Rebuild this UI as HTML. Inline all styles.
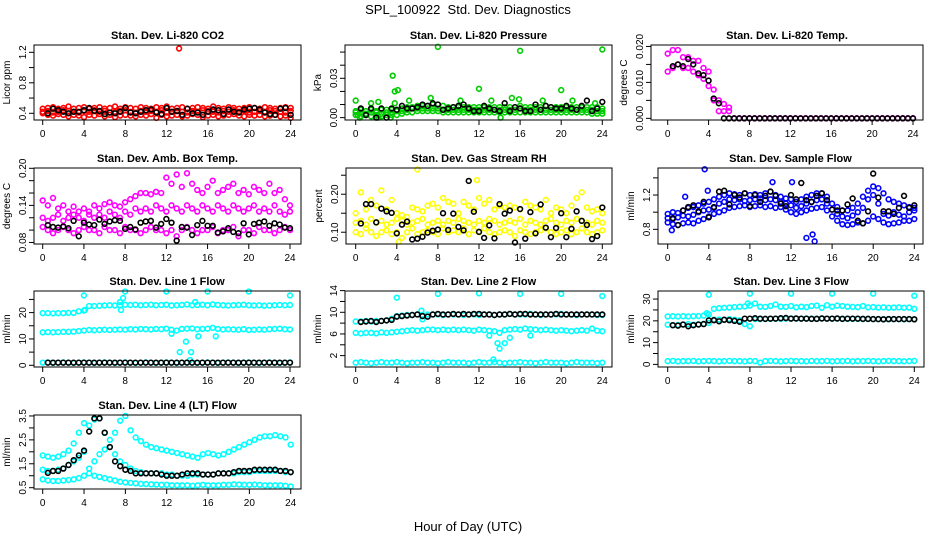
<!DOCTYPE html>
<html><head><meta charset="utf-8"><style>
html,body{margin:0;padding:0;background:#fff}
svg{display:block;font-family:"Liberation Sans",Arial,sans-serif}
</style></head><body>
<svg id="chart" width="936" height="540" viewBox="0 0 936 540" xmlns="http://www.w3.org/2000/svg">
<rect width="936" height="540" fill="#fff"/>
<text x="468" y="14" font-size="13" text-anchor="middle" style="white-space:pre">SPL_100922  Std. Dev. Diagnostics</text>
<text x="468" y="531" font-size="13" text-anchor="middle">Hour of Day (UTC)</text>
</svg>
<script>
const HOURS=[0,0.5,1,1.5,2,2.5,3,3.5,4,4.5,5,5.5,6,6.5,7,7.5,8,8.5,9,9.5,10,10.5,11,11.5,12,12.5,13,13.5,14,14.5,15,15.5,16,16.5,17,17.5,18,18.5,19,19.5,20,20.5,21,21.5,22,22.5,23,23.5,24];
const X_TICKS=[0,4,8,12,16,20,24];

const co2Lo=[0.40,0.38,0.37,0.39,0.38,0.36,0.38,0.37,0.35,0.38,0.37,0.39,0.36,0.38,0.35,0.37,0.38,0.37,0.36,0.38,0.37,0.39,0.34,0.38,0.36,0.37,0.38,0.36,0.37,0.39,0.38,0.35,0.37,0.38,0.36,0.37,0.38,0.39,0.37,0.36,0.38,0.37,0.38,0.36,0.37,0.38,0.36,0.37,0.34];
const co2Mid=[0.42,0.43,0.41,0.42,0.44,0.43,0.42,0.41,0.43,0.42,0.44,0.42,0.43,0.41,0.42,0.43,0.44,0.42,0.41,0.43,0.42,0.43,0.42,0.44,0.41,0.42,0.43,0.42,0.41,0.43,0.42,0.44,0.43,0.42,0.41,0.43,0.42,0.44,0.42,0.43,0.41,0.42,0.43,0.42,0.44,0.43,0.42,0.41,0.43];
const co2Hi=[0.46,0.47,0.48,0.46,0.47,0.49,0.46,0.47,0.48,0.46,0.47,0.48,0.46,0.47,0.49,0.46,0.48,0.47,0.46,0.48,0.47,0.46,0.48,0.47,0.49,0.46,0.47,0.48,0.46,0.47,0.48,0.47,0.46,0.49,0.47,0.46,0.48,0.47,0.46,0.47,0.48,0.47,0.46,0.48,0.47,0.46,0.47,0.48,0.47];
const co2Black=[null,0.40,0.46,0.44,0.42,0.40,0.42,0.42,0.44,0.47,0.43,0.43,0.39,0.41,0.40,0.42,0.47,0.41,0.40,0.42,0.44,0.45,0.41,0.39,0.47,0.42,0.43,0.38,0.46,0.40,0.41,0.38,0.42,0.45,0.44,0.39,0.45,0.42,0.41,0.45,0.46,0.47,0.45,0.41,0.39,0.38,0.46,0.47,0.38];
const co2OutHours=[13.2];
const co2OutVals=[1.25];

const presLo=[0.002,0.001,0.002,0.001,0.002,0.001,0.002,0.002,0.002,0.003,0.004,0.004,0.005,0.005,0.005,0.005,0.005,0.004,0.004,0.004,0.004,0.004,0.004,0.004,0.004,0.004,0.004,0.004,0.004,0.004,0.004,0.004,0.004,0.004,0.004,0.004,0.004,0.004,0.004,0.004,0.004,0.004,0.004,0.004,0.004,0.004,0.003,0.003,0.003];
const presMid=[0.004,0.004,0.003,0.004,0.004,0.003,0.004,0.004,0.005,0.005,0.006,0.007,0.007,0.007,0.007,0.007,0.007,0.006,0.006,0.006,0.006,0.006,0.006,0.006,0.006,0.006,0.006,0.006,0.006,0.006,0.006,0.006,0.007,0.006,0.006,0.006,0.006,0.006,0.006,0.006,0.006,0.006,0.006,0.006,0.006,0.006,0.006,0.005,0.005];
const presHi=[0.005,0.006,0.005,0.006,0.005,0.006,0.006,0.006,0.006,0.007,0.008,0.008,0.009,0.009,0.009,0.010,0.010,0.009,0.008,0.008,0.008,0.008,0.008,0.008,0.008,0.008,0.008,0.008,0.008,0.008,0.008,0.008,0.009,0.008,0.008,0.008,0.008,0.009,0.008,0.008,0.008,0.008,0.008,0.008,0.008,0.008,0.008,0.008,0.007];
const presBlack=[null,0.007,0.002,0.007,0.000,0.007,0.000,0.007,0.006,0.009,0.007,0.007,0.008,0.010,0.009,0.011,0.010,0.006,0.007,0.008,0.009,0.010,0.007,0.005,0.005,0.009,0.007,0.006,0.005,0.011,0.005,0.008,0.007,0.005,0.005,0.010,0.006,0.009,0.008,0.007,0.007,0.009,0.007,0.006,0.009,0.013,0.005,0.007,0.012];
const presOutHours=[0,1.5,2.2,3.6,3.8,4.1,3.8,5.2,7.3,8,10.2,12,13.2,14.1,15.2,15.9,16,18.2,20,21.1,23.3,24,0.2,2.2,3.4,0.4];
const presOutVals=[0.013,0.011,0.012,0.032,0.020,0.021,0.011,0.013,0.015,0.054,0.013,0.022,0.013,0,0.015,0.014,0.051,0.013,0.021,0.013,0.011,0.052,0.002,0,0,0];

const tempHi=[0.018,0.019,0.019,0.017,0.017,0.016,0.016,0.014,0.013,0.008,0.005,0.004,0.003,0,0,0,0,0,0,0,0,0,0,0,0,0,0,0,0,0,0,0,0,0,0,0,0,0,0,0,0,0,0,0,0,0,0,0,0];
const tempLo=[0.013,0.014,0.015,0.014,0.014,0.013,0.012,0.011,0.009,0.005,0.002,0.002,0.002,0,0,0,0,0,0,0,0,0,0,0,0,0,0,0,0,0,0,0,0,0,0,0,0,0,0,0,0,0,0,0,0,0,0,0,0];
const tempBlack=[null,0.0145,0.015,0.0145,0.0165,0.015,0.0125,0.012,0.0105,0.0055,0.0042,0,0,0,0,0,0,0,0,0,0,0,0,0,0,0,0,0,0,0,0,0,0,0,0,0,0,0,0,0,0,0,0,0,0,0,0,0,0];

const ambLo=[0.105,0.10,0.095,0.10,0.105,0.10,0.095,0.10,0.105,0.10,0.10,0.095,0.105,0.10,0.10,0.095,0.105,0.10,0.10,0.095,0.10,0.105,0.10,0.10,0.095,0.10,0.09,0.10,0.105,0.10,0.095,0.10,0.10,0.105,0.095,0.10,0.10,0.105,0.09,0.10,0.10,0.095,0.105,0.10,0.10,0.095,0.10,0.105,0.10];
const ambMid=[0.12,0.115,0.12,0.125,0.115,0.12,0.125,0.12,0.115,0.125,0.12,0.125,0.12,0.13,0.125,0.12,0.13,0.125,0.135,0.13,0.135,0.13,0.14,0.135,0.13,0.14,0.135,0.13,0.14,0.135,0.13,0.14,0.135,0.13,0.14,0.135,0.13,0.14,0.135,0.13,0.135,0.14,0.13,0.135,0.13,0.14,0.13,0.125,0.13];
const ambHi=[0.148,0.14,0.152,0.135,0.14,0.13,0.138,0.13,0.135,0.13,0.14,0.135,0.142,0.145,0.14,0.138,0.145,0.15,0.155,0.16,0.16,0.158,0.162,0.16,0.185,0.175,0.19,0.17,0.192,0.175,0.165,0.16,0.17,0.18,0.16,0.165,0.17,0.175,0.16,0.165,0.158,0.17,0.165,0.16,0.175,0.16,0.165,0.15,0.14];
const ambBlack=[null,0.108,0.105,0.104,0.106,0.103,0.115,0.09,0.112,0.109,0.108,0.117,0.11,0.114,0.116,0.115,0.102,0.105,0.101,0.112,0.114,0.115,0.104,0.11,0.118,0.112,0.083,0.105,0.104,0.092,0.108,0.115,0.107,0.107,0.096,0.098,0.103,0.097,0.095,0.111,0.093,0.11,0.112,0.114,0.107,0.111,0.109,0.104,0.103];

const rhLo=[0.10,0.095,0.11,0.10,0.09,0.10,0.105,0.095,0.10,0.085,0.10,0.11,0.095,0.10,0.105,0.10,0.095,0.11,0.10,0.105,0.10,0.11,0.095,0.105,0.10,0.11,0.10,0.095,0.10,0.105,0.10,0.09,0.105,0.10,0.095,0.10,0.105,0.11,0.10,0.095,0.10,0.105,0.095,0.10,0.11,0.10,0.095,0.10,0.105];
const rhMid=[0.125,0.13,0.12,0.135,0.125,0.13,0.12,0.125,0.135,0.13,0.12,0.125,0.13,0.135,0.12,0.125,0.13,0.12,0.13,0.125,0.135,0.13,0.125,0.12,0.13,0.125,0.135,0.13,0.12,0.125,0.13,0.125,0.135,0.12,0.13,0.125,0.12,0.13,0.135,0.125,0.12,0.13,0.125,0.135,0.13,0.125,0.12,0.13,0.125];
const rhHi=[0.15,0.205,0.16,0.185,0.17,0.21,0.16,0.185,0.15,0.145,0.14,0.165,0.16,0.155,0.17,0.175,0.165,0.19,0.18,0.175,0.15,0.18,0.17,0.16,0.19,0.175,0.185,0.16,0.17,0.165,0.17,0.165,0.16,0.18,0.17,0.165,0.16,0.185,0.15,0.165,0.16,0.15,0.17,0.19,0.205,0.165,0.155,0.16,0.15];
const rhBlack=[null,0.123,0.174,0.174,0.126,0.162,0.155,0.151,0.097,0.12,0.128,0.081,0.083,0.088,0.099,0.104,0.107,0.15,0.106,0.149,0.114,0.105,0.235,0.154,0.101,0.085,0.118,0.084,0.174,0.149,0.157,0.073,0.161,0.083,0.153,0.097,0.173,0.112,0.087,0.111,0.15,0.087,0.109,0.155,0.13,0.119,0.082,0.09,0.165];
const rhOutHours=[6,4.2,11.8];
const rhOutVals=[0.265,0.075,0.237];

const sfLo=[0.88,0.86,0.85,0.87,0.88,0.87,0.90,0.92,0.95,0.98,1.0,1.02,1.05,1.06,1.07,1.08,1.06,1.07,1.08,1.06,1.07,1.05,1.06,1.03,1.0,0.98,1.0,1.02,1.04,1.05,1.06,1.02,0.95,0.9,0.86,0.85,0.86,0.88,0.87,0.9,0.95,0.92,0.88,0.86,0.87,0.88,0.9,0.9,0.92];
const sfMid=[0.93,0.92,0.94,0.96,0.95,0.97,1.0,1.02,1.03,1.05,1.1,1.12,1.15,1.14,1.15,1.13,1.14,1.15,1.16,1.14,1.15,1.14,1.12,1.1,1.08,1.05,1.07,1.1,1.12,1.14,1.15,1.1,1.03,0.98,0.95,0.93,0.96,1.0,1.05,1.15,1.2,1.1,0.98,0.96,1.0,0.97,0.95,1.0,1.02];
const sfHi=[0.98,1.0,0.99,1.02,1.05,1.06,1.08,1.1,1.12,1.15,1.18,1.2,1.22,1.21,1.2,1.22,1.2,1.21,1.2,1.22,1.24,1.2,1.18,1.16,1.15,1.12,1.15,1.18,1.2,1.22,1.22,1.18,1.1,1.06,1.02,1.02,1.05,1.1,1.18,1.25,1.3,1.28,1.22,1.15,1.12,1.1,1.08,1.06,1.05];
const sfBlack=[null,0.93,0.85,1.02,1.06,1.08,1.01,1.12,0.94,1.06,1.24,1.25,1.09,1.2,1.17,1.22,1.07,1.2,1.12,1.19,1.24,1.19,1.1,1.07,1.2,1.15,1.34,1.14,1.12,1.19,1.22,1.14,1.03,1.02,1.02,1.09,1.16,0.9,0.87,1.01,1.45,1.17,1.01,1.01,0.98,1.05,1.19,1.05,1.08];
const sfOutHours=[0.4,3.6,13.5,14.1,14.3,3.9,1.7,10.2,12.1];
const sfOutVals=[0.79,1.5,0.7,0.74,0.66,1.25,1.18,1.35,1.35];

const l1Top=[19.8,19.8,19.7,19.8,19.8,19.9,19.9,20.5,20.8,22.5,22.5,22.6,22.7,22.8,22.7,22.8,23.0,22.9,23.0,22.8,22.9,23.0,22.8,22.9,23.0,22.7,22.8,22.9,23.1,22.8,22.9,23.0,22.8,23.1,22.9,22.8,22.7,22.8,22.9,23.0,22.8,22.7,22.8,22.6,22.7,22.8,22.9,22.8,22.9];
const l1Mid=[12.5,12.6,12.5,12.6,12.7,12.7,12.8,13.0,13.2,13.4,13.3,13.4,13.5,13.4,13.5,13.6,13.5,13.7,13.6,13.8,13.7,13.6,13.8,13.7,13.9,13.5,13.2,13.8,13.9,14.0,13.7,13.8,13.9,14.2,13.8,13.6,13.7,13.6,13.5,13.7,13.4,13.5,13.6,13.5,13.7,13.8,13.9,13.7,13.6];
const l1Bot=[1.0,1.1,0.9,1.0,1.1,1.0,0.9,1.0,1.1,1.0,0.9,1.0,1.1,1.0,0.9,1.0,1.1,1.0,0.9,1.0,1.1,1.0,0.9,1.0,1.1,1.0,0.9,1.0,1.1,1.0,0.9,1.0,1.1,1.0,0.9,1.0,1.1,1.0,0.9,1.0,1.1,1.0,0.9,1.0,1.1,1.0,0.9,1.0,1.1];
const l1Black=[null,1.0,1.0,1.0,1.0,1.0,1.0,1.0,1.0,1.0,1.0,1.0,1.0,1.0,1.0,1.0,1.0,1.0,1.0,1.0,1.0,1.0,1.0,1.0,1.0,1.0,1.0,1.0,1.0,1.0,1.0,1.0,1.0,1.0,1.0,1.0,1.0,1.0,1.0,1.0,1.0,1.0,1.0,1.0,1.0,1.0,1.0,1.0,1.0];
const l1OutHours=[4,8,12,16,20,24,7.5,7.8,7.6,13.3,14.4,14.3,13.9,15.1,16.8,12.5,4.1,14.8];
const l1OutVals=[26.5,28,28,28,28,26.5,24,25.5,21,5,5,2,9,11,11,12,21,24];

const l2Top=[8.3,8.3,8.4,8.3,8.4,8.4,8.5,8.8,9.3,9.4,9.5,9.5,9.6,9.5,9.6,9.6,9.6,9.5,9.6,9.6,9.6,9.5,9.6,9.6,9.5,9.6,9.6,9.5,9.6,9.6,9.7,9.6,9.6,9.6,9.7,9.6,9.5,9.6,9.6,9.6,9.7,9.6,9.6,9.5,9.6,9.6,9.6,9.5,9.5];
const l2Mid=[6.2,6.1,6.2,6.2,6.1,6.3,6.2,6.3,6.4,6.5,6.6,6.7,6.6,6.7,6.8,6.8,6.7,6.8,6.7,6.8,6.7,6.8,6.7,6.6,6.8,6.7,6.6,6.5,6.2,6.7,6.8,6.9,6.8,7.0,6.9,6.8,6.7,6.8,6.7,6.6,6.7,6.6,6.5,6.6,6.7,6.6,7.0,6.6,6.5];
const l2Bot=[0.7,0.8,0.7,0.6,0.7,0.8,0.7,0.7,0.8,0.7,0.6,0.7,0.7,0.8,0.7,0.7,0.6,0.7,0.8,0.7,0.7,0.7,0.6,0.7,0.8,0.7,0.7,0.8,0.7,0.6,0.7,0.7,0.8,0.7,0.7,0.6,0.7,0.8,0.7,0.7,0.7,0.6,0.7,0.8,0.7,0.7,0.7,0.6,0.7];
const l2Black=[null,8.2,8.3,8.4,8.2,8.4,8.5,8.6,9.2,9.3,9.4,9.5,9.6,9.3,9.2,9.6,9.7,9.6,9.6,9.7,9.6,9.7,9.6,9.7,9.7,9.6,9.6,9.5,9.6,9.6,9.7,9.6,9.7,9.7,9.6,9.6,9.6,9.6,9.6,9.7,9.6,9.6,9.6,9.6,9.6,9.6,9.6,9.6,9.6];
const l2OutHours=[4,8,12,16,20,24,13,13.8,14,14.5,15,17,13.4,6.4,6.5];
const l2OutVals=[12.7,13.4,13.5,13.4,13.4,13,5.7,4.3,3.3,4.3,5.3,5.7,1.3,10.3,8.7];

const l3Top=[22.0,22.1,22.0,22.1,22.0,22.1,22.2,22.4,23.0,25.5,25.8,26.0,26.1,26.3,26.5,26.6,27.0,28.0,26.5,26.4,26.8,27.5,26.5,26.4,26.8,26.2,26.5,26.3,26.8,27.0,26.0,27.2,26.5,27.0,26.8,26.5,26.4,26.3,26.8,26.2,26.3,26.1,26.2,26.0,26.1,26.2,26.0,26.1,25.5];
const l3Mid=[18.2,18.0,18.1,18.3,18.5,18.2,18.4,18.6,19.0,20.5,20.6,20.4,20.8,20.5,20.2,18.5,17.5,20.8,20.8,20.9,20.9,21.0,20.9,21.0,21.1,21.0,21.0,21.1,21.0,21.0,21.1,21.0,21.0,21.0,21.0,20.9,20.9,20.9,20.8,20.9,20.8,20.8,20.8,20.7,20.8,20.8,20.7,20.8,20.7];
const l3Bot=[1.5,1.6,1.4,1.5,1.5,1.6,1.4,1.5,1.6,1.5,1.4,1.5,1.6,1.5,1.5,1.4,1.6,1.5,0.8,1.5,1.6,1.5,1.4,1.5,1.6,1.5,1.5,1.4,1.6,1.5,1.5,1.6,1.4,1.5,1.5,1.6,1.4,1.5,1.5,1.6,1.5,1.4,1.5,1.6,1.5,1.5,1.4,1.5,1.6];
const l3Black=[null,18,17.8,18.3,17.5,18,18.3,18.5,20.2,20.3,19.8,20.5,20.3,20,19.6,21,21,21.2,21,20.9,21,21,21.2,21.3,21,21.1,21,21,20.9,20.9,21.1,21,21,21.1,20.9,21,21,21,20.9,20.9,20.8,20.8,20.7,20.8,20.8,20.8,20.8,20.8,20.7];
const l3OutHours=[4,8,12,16,20,24,7.8,3.8];
const l3OutVals=[32,32.5,32.5,32.5,32.5,31.5,28,23.5];

const l4A=[1.85,1.8,1.75,1.8,1.9,2.05,2.35,2.8,3.2,3.1,3.35,3.4,2.8,2.2,1.9,1.6,1.45,1.3,1.2,1.15,1.1,1.1,1.1,1.1,1.05,1.05,1.0,1.0,1.0,1.05,1.05,1.05,1.05,1.05,1.1,1.1,1.1,1.1,1.15,1.15,1.15,1.2,1.2,1.2,1.2,1.2,1.2,1.15,1.15];
const l4B=[1.25,1.2,1.2,1.25,1.3,1.45,1.6,1.75,2.0,1.3,1.6,1.9,2.1,2.5,2.8,3.3,3.5,2.9,2.6,2.45,2.3,2.2,2.15,2.1,2.05,2.0,1.95,1.9,1.85,1.8,1.75,1.9,1.95,1.9,1.85,1.9,2.0,2.1,2.2,2.3,2.4,2.5,2.6,2.65,2.65,2.7,2.65,2.6,2.3];
const l4C=[0.85,0.8,0.78,0.78,0.8,0.82,0.85,0.9,1.0,1.1,1.0,0.95,0.9,0.85,0.8,0.75,0.72,0.7,0.68,0.66,0.65,0.64,0.63,0.62,0.62,0.6,0.6,0.6,0.6,0.58,0.6,0.62,0.6,0.6,0.6,0.62,0.62,0.64,0.63,0.62,0.62,0.63,0.62,0.6,0.6,0.6,0.6,0.58,0.55];
const l4Black=[null,1.12,1.2,1.2,1.3,1.45,1.65,1.85,2.05,2.85,3.4,3.4,2.8,2.2,1.6,1.4,1.25,1.2,1.1,1.1,1.1,1.1,1.1,1.05,1.0,1.0,1.0,1.05,1.1,1.1,1.1,1.05,1.05,1.05,1.1,1.1,1.1,1.15,1.2,1.2,1.2,1.25,1.25,1.25,1.25,1.25,1.2,1.2,1.15];

const svg=document.getElementById('chart');
const NS='http://www.w3.org/2000/svg';
function mk(tag,attrs,parent){const e=document.createElementNS(NS,tag);for(const k in attrs)e.setAttribute(k,attrs[k]);(parent||svg).appendChild(e);return e;}

const panels=[
 {id:'co2',title:'Stan. Dev. Li-820 CO2',ylab:'Licor ppm',box:[34,301,45,120],xp:[42.7,290.7],yr:[0.312,1.296],yt:[0.4,0.6,0.8,1.0,1.2],yl:[0.4,0.8,1.2],fmt:v=>v.toFixed(1),col:'#ff0000',series:[co2Lo,co2Mid,co2Hi],oh:co2OutHours,ov:co2OutVals,blk:co2Black},
 {id:'pressure',title:'Stan. Dev. Li-820 Pressure',ylab:'kPa',box:[345,612,45,120],xp:[355.7,602.3],yr:[-0.0018,0.0554],yt:[0,0.01,0.02,0.03,0.04,0.05],yl:[0,0.03],fmt:v=>v.toFixed(2),col:'#00cc00',series:[presLo,presMid,presHi],oh:presOutHours,ov:presOutVals,blk:presBlack},
 {id:'temp',title:'Stan. Dev. Li-820 Temp.',ylab:'degrees C',box:[651,923,45,120],xp:[667.7,913],yr:[-0.00046,0.0204],yt:[0,0.005,0.01,0.015,0.02],yl:[0,0.01,0.02],fmt:v=>v.toFixed(3),col:'#ff00ff',series:[tempLo,tempHi],oh:[],ov:[],blk:tempBlack},
 {id:'amb-box-temp',title:'Stan. Dev. Amb. Box Temp.',ylab:'degrees C',box:[34,301,168,244],xp:[42.7,290],yr:[0.0775,0.2005],yt:[0.08,0.10,0.12,0.14,0.16,0.18,0.20],yl:[0.08,0.14,0.20],fmt:v=>v.toFixed(2),col:'#ff00ff',series:[ambLo,ambMid,ambHi],oh:[],ov:[],blk:ambBlack},
 {id:'gas-rh',title:'Stan. Dev. Gas Stream RH',ylab:'percent',box:[346,612,168,244],xp:[355.7,602.3],yr:[0.069,0.269],yt:[0.10,0.15,0.20,0.25],yl:[0.10,0.20],fmt:v=>v.toFixed(2),col:'#ffff00',series:[rhLo,rhMid,rhHi],oh:rhOutHours,ov:rhOutVals,blk:rhBlack},
 {id:'sample-flow',title:'Stan. Dev. Sample Flow',ylab:'ml/min',box:[658,923,168,244],xp:[667.7,914.3],yr:[0.629,1.515],yt:[0.8,1.0,1.2,1.4],yl:[0.8,1.2],fmt:v=>v.toFixed(1),col:'#0000ff',series:[sfLo,sfMid,sfHi],oh:sfOutHours,ov:sfOutVals,blk:sfBlack},
 {id:'line1-flow',title:'Stan. Dev. Line 1 Flow',ylab:'ml/min',box:[34,300,291,367],xp:[42.7,290],yr:[-0.65,28.2],yt:[0,5,10,15,20,25],yl:[0,10,20],fmt:v=>String(v),col:'#00ffff',series:[l1Top,l1Mid,l1Bot],oh:l1OutHours,ov:l1OutVals,blk:l1Black},
 {id:'line2-flow',title:'Stan. Dev. Line 2 Flow',ylab:'ml/min',box:[345,612,291,367],xp:[355.7,602.3],yr:[-0.1,13.93],yt:[2,4,6,8,10,12,14],yl:[2,6,10,14],fmt:v=>String(v),col:'#00ffff',series:[l2Top,l2Mid,l2Bot],oh:l2OutHours,ov:l2OutVals,blk:l2Black},
 {id:'line3-flow',title:'Stan. Dev. Line 3 Flow',ylab:'ml/min',box:[658,924,291,367],xp:[667.7,914.3],yr:[-1.2,33.7],yt:[0,5,10,15,20,25,30],yl:[0,10,20,30],fmt:v=>String(v),col:'#00ffff',series:[l3Top,l3Mid,l3Bot],oh:l3OutHours,ov:l3OutVals,blk:l3Black},
 {id:'line4-flow',title:'Stan. Dev. Line 4 (LT) Flow',ylab:'ml/min',box:[34,301,415,489],xp:[42.7,290.7],yr:[0.445,3.54],yt:[0.5,1.0,1.5,2.0,2.5,3.0,3.5],yl:[0.5,1.5,2.5,3.5],fmt:v=>v.toFixed(1),col:'#00ffff',series:[l4A,l4B,l4C],oh:[],ov:[],blk:l4Black}
];

panels.forEach(p=>{
  const [L,R,T,B]=p.box;
  const xs=h=>p.xp[0]+(p.xp[1]-p.xp[0])*h/24;
  const ys=v=>B-(v-p.yr[0])/(p.yr[1]-p.yr[0])*(B-T);
  const g=mk('g',{});
  
  
  const t=mk('text',{x:(L+R)/2,y:T-6,'font-size':11,'font-weight':'bold','text-anchor':'middle'},g);
  t.textContent=p.title;
  
  
  const yl=mk('text',{x:0,y:0,'font-size':10,'text-anchor':'middle',transform:`translate(${L-24},${(T+B)/2}) rotate(-90)`},g);
  yl.textContent=p.ylab;
  
  
  const pts=mk('g',{fill:'none','stroke-width':1.6},g);
  
  
  p.series.forEach(arr=>{arr.forEach((v,i)=>{if(v===null)return;
    const c=mk('circle',{cx:xs(HOURS[i]),cy:ys(v),r:2.4,stroke:p.col},pts);
    
    
  });});
  p.oh.forEach((h,i)=>{
    const c=mk('circle',{cx:xs(h),cy:ys(p.ov[i]),r:2.4,stroke:p.col},pts);
    
    
  });
  p.blk.forEach((v,i)=>{if(v===null)return;
    const c=mk('circle',{cx:xs(HOURS[i]),cy:ys(v),r:2.4,stroke:'#000'},pts);
    
    
  });
  const bx=mk('rect',{x:L,y:T,width:R-L,height:B-T,fill:'none',stroke:'#000','stroke-width':1},g);
  
  
  X_TICKS.forEach(h=>{
    mk('line',{x1:xs(h),x2:xs(h),y1:B,y2:B+5,stroke:'#000'},g);
    const tx=mk('text',{x:xs(h),y:B+17,'font-size':10,'text-anchor':'middle'},g);
    tx.textContent=String(h);
    
    
  });
  p.yt.forEach(v=>{mk('line',{x1:L-5,x2:L,y1:ys(v),y2:ys(v),stroke:'#000'},g);});
  p.yl.forEach(v=>{
    const tx=mk('text',{x:0,y:0,'font-size':10,'text-anchor':'middle',transform:`translate(${L-8},${ys(v)}) rotate(-90)`},g);
    tx.textContent=p.fmt(v);
    
    
  });
});
</script>
</body></html>
